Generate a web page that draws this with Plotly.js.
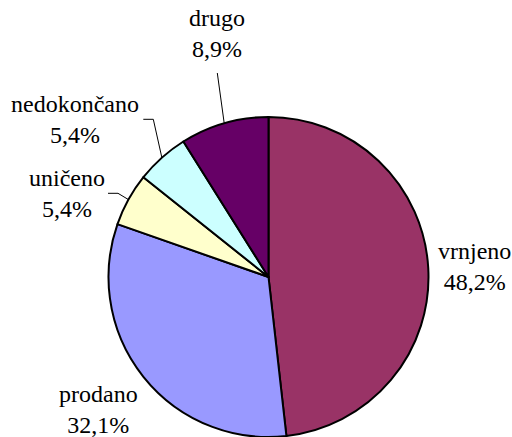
<!DOCTYPE html>
<html>
<head>
<meta charset="utf-8">
<script src="https://cdn.plot.ly/plotly-3.0.1.min.js"></script>
<style>html,body{margin:0;padding:0;background:#fff;}#chart{width:512px;height:437px;}</style>
</head>
<body>
<div id="chart"></div>
<script>
// Data
const labels = ['vrnjeno', 'prodano', 'uničeno', 'nedokončano', 'drugo'];
const counts = [27, 18, 3, 3, 5];
const colors = ['#993366', '#9999FF', '#FFFFCC', '#CCFFFF', '#660066'];

// Layout constants (pixels)
const W = 512, H = 437;
const CX = 268.5, CY = 277, R = 160;
// label centres (x, y middle) in px
const labelPos = [[474, 266], [98, 409], [67, 193], [75, 119], [217, 34]];
// leader line label-side points (px); null = no leader
const leaderPts = [null, null, [[108, 193.3], [118, 193.3]], [[143.3, 119.3], [153.3, 119.3]], [[217.3, 73]]];

const total = counts.reduce((a, b) => a + b, 0);
const pctText = counts.map(v => (v / total * 100).toFixed(1).replace('.', ',') + '%');

const px = x => x / W;
const py = y => (H - y) / H;

const trace = {
  type: 'pie',
  values: counts,
  labels: labels,
  sort: false,
  direction: 'clockwise',
  rotation: 0,
  textinfo: 'none',
  hoverinfo: 'none',
  marker: { colors: colors, line: { color: '#000000', width: 2 } },
  domain: { x: [px(CX - R), px(CX + R)], y: [py(CY + R), py(CY - R)] }
};

const annotations = labels.map((l, i) => ({
  xref: 'paper', yref: 'paper',
  x: px(labelPos[i][0]), y: py(labelPos[i][1]),
  xanchor: 'center', yanchor: 'middle',
  text: l + '<br>' + pctText[i],
  showarrow: false, align: 'center',
  font: { family: 'serif', size: 24, color: '#000000' }
}));

// leader lines: end at slice mid-angle on the rim
const shapes = [];
let cum = 0;
counts.forEach((v, i) => {
  const mid = (cum + v / 2) / total * 2 * Math.PI;
  cum += v;
  if (!leaderPts[i]) return;
  const ex = CX + R * Math.sin(mid), ey = CY - R * Math.cos(mid);
  const pts = leaderPts[i].concat([[ex, ey]]);
  const path = pts.map((p, k) => (k ? 'L' : 'M') + px(p[0]).toFixed(5) + ',' + py(p[1]).toFixed(5)).join(' ');
  shapes.push({ type: 'path', xref: 'paper', yref: 'paper', path: path, line: { color: '#000000', width: 1 } });
});

const layout = {
  width: W, height: H,
  margin: { l: 0, r: 0, t: 0, b: 0 },
  paper_bgcolor: '#ffffff', plot_bgcolor: '#ffffff',
  font: { family: 'serif', size: 24, color: '#000000' },
  showlegend: false,
  annotations: annotations,
  shapes: shapes
};

Plotly.newPlot('chart', [trace], layout, { displayModeBar: false, staticPlot: true });
</script>
</body>
</html>
